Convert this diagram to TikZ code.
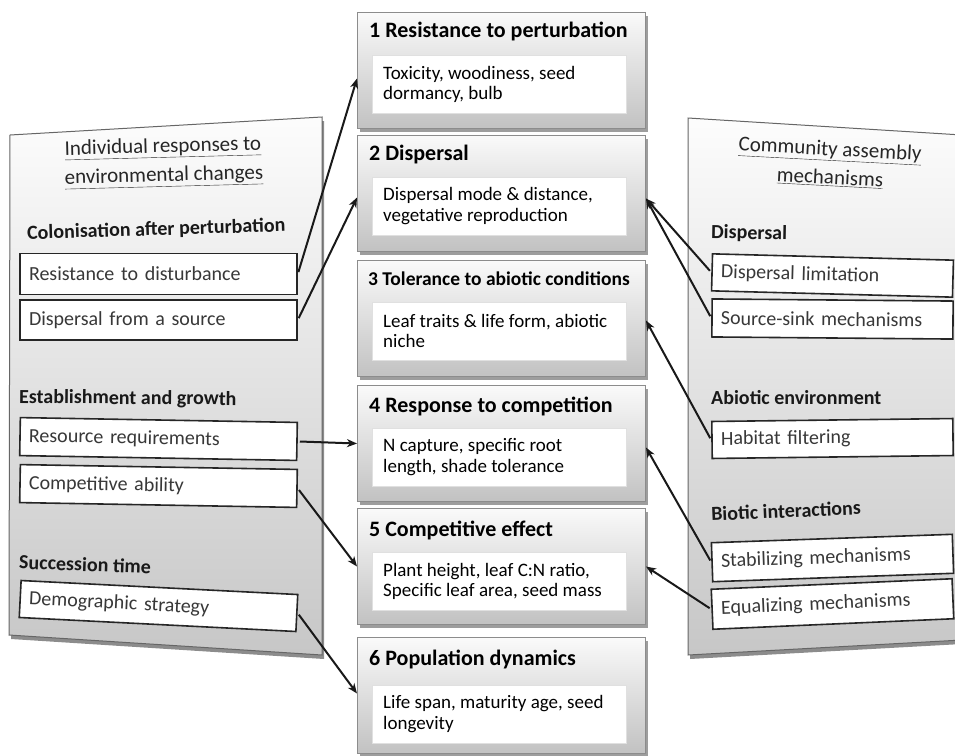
\documentclass[tikz,border=0pt]{standalone}
\usepackage{fontspec}
\setmainfont{Carlito}
\usetikzlibrary{arrows.meta,shadows,calc}
\begin{document}
\begin{tikzpicture}[x=1pt,y=-1pt,
  mainbox/.style={draw=black!45, line width=1pt, top color=black!2, bottom color=black!24,
    minimum width=288pt, minimum height=116pt, anchor=north west, inner sep=0pt,
    drop shadow={shadow xshift=2pt, shadow yshift=-3pt, fill=black!70, opacity=0.55}},
  inbox/.style={draw=black!12, fill=white, minimum width=254pt, minimum height=58pt,
    anchor=north west, inner sep=0pt},
  intext/.style={anchor=west, align=left, inner sep=0pt,
    font=\fontsize{19}{20.5}\selectfont},
  boxtitle/.style={anchor=west, inner sep=0pt, font=\bfseries\fontsize{22}{24}\selectfont},
  lbox/.style={draw=black!85, line width=1.6pt, fill=white, text width=259pt, inner xsep=9pt,
    inner ysep=0pt, align=left, text=black!78, font=\fontsize{20}{22}\selectfont},
  rbox/.style={lbox, text width=223pt},
  phead/.style={inner sep=0pt, text=black!85, font=\fontsize{21}{25}\selectfont},
  plabel/.style={anchor=west, inner sep=0pt, text=black!90, font=\bfseries\fontsize{20}{22}\selectfont},
  arr/.style={-{Stealth[length=10pt,width=8pt,inset=3pt]}, line width=2pt, black!90, shorten <=2pt},
]
\useasboundingbox (0,0) rectangle (955,755);
\clip (0,0) rectangle (955,755);

% side panels
\fill[black!45] (12,139) -- (324,121) -- (324,659) -- (11,639) -- cycle;
\shade[top color=black!1, bottom color=black!22, draw=black!60, line width=1pt]
  (10,135) -- (322,117) -- (322,655) -- (9,635) -- cycle;
\fill[black!45] (690,122) -- (962,139) -- (962,644) -- (690,659) -- cycle;
\shade[top color=black!1, bottom color=black!22, draw=black!60, line width=1pt]
  (688,118) -- (962,135) -- (962,640) -- (688,655) -- cycle;

% left panel content
\node[phead, rotate=1.5] (lh1) at (163,148) {\underline{Individual responses to}};
\node[phead, rotate=1.5] (lh2) at (164,177) {\underline{environmental changes}};
\node[plabel, rotate=1.8] (lc) at (27,234) {Colonisation after perturbation};
\node[plabel, rotate=-0.5] (le) at (19,398) {Establishment and growth};
\node[plabel, rotate=-2] (ls) at (19,562) {Succession time};
\node[lbox, minimum height=41pt] (rd) at (158.5,274) {Resistance to disturbance};
\node[lbox, minimum height=40pt] (ds) at (158.5,320) {Dispersal from a source};
\node[lbox, minimum height=38pt, rotate=-1] (rr) at (158.5,439) {Resource requirements};
\node[lbox, minimum height=38pt, rotate=-1] (ca) at (158.5,486) {Competitive ability};
\node[lbox, minimum height=37pt, rotate=-2.9] (dm) at (158.5,606) {Demographic strategy};

% right panel content
\node[phead, rotate=-3] (rh1) at (830,151) {\underline{Community assembly}};
\node[phead, rotate=-3] (rh2) at (830,178) {\underline{mechanisms}};
\node[plabel, rotate=-1] (rdp) at (711,233) {Dispersal};
\node[plabel] (rab) at (711,398) {Abiotic environment};
\node[plabel, rotate=2.5] (rbi) at (711,514) {Biotic interactions};
\node[rbox, minimum height=37pt, rotate=-1.5] (dl) at (832.5,275.5) {Dispersal limitation};
\node[rbox, minimum height=38pt, rotate=-0.5] (ss) at (832.5,319) {Source-sink mechanisms};
\node[rbox, minimum height=37pt, rotate=0.7] (hf) at (832.5,438.5) {Habitat filtering};
\node[rbox, minimum height=39pt, rotate=2] (sm) at (832.5,558) {Stabilizing mechanisms};
\node[rbox, minimum height=40pt, rotate=2.5] (em) at (832.5,604) {Equalizing mechanisms};

% central boxes
\node[mainbox] (b1) at (357,12) {};
\node[boxtitle] (t1) at (369,31) {1 Resistance to perturbation};
\node[inbox] (i1) at (372,55) {};
\node[intext] (x1) at ($(i1.west)+(11,0)$) {Toxicity, woodiness, seed\\dormancy, bulb};

\node[mainbox] (b2) at (357,135) {};
\node[boxtitle] (t2) at (369,155) {2 Dispersal};
\node[inbox] (i2) at (372,177) {};
\node[intext] (x2) at ($(i2.west)+(11,0)$) {Dispersal mode \& distance,\\vegetative reproduction};

\node[mainbox] (b3) at (357,260) {};
\node[boxtitle, font=\bfseries\fontsize{19.5}{22}\selectfont] (t3) at (368,279) {3 Tolerance to abiotic conditions};
\node[inbox] (i3) at (372,302) {};
\node[intext] (x3) at ($(i3.west)+(11,0)$) {Leaf traits \& life form, abiotic\\niche};

\node[mainbox] (b4) at (357,385) {};
\node[boxtitle] (t4) at (369,406) {4 Response to competition};
\node[inbox] (i4) at (372,428) {};
\node[intext] (x4) at ($(i4.west)+(11,0)$) {N capture, specific root\\length, shade tolerance};

\node[mainbox] (b5) at (357,508) {};
\node[boxtitle] (t5) at (369,530) {5 Competitive effect};
\node[inbox] (i5) at (372,552) {};
\node[intext] (x5) at ($(i5.west)+(11,0)$) {Plant height, leaf C:N ratio,\\Specific leaf area, seed mass};

\node[mainbox] (b6) at (357,637) {};
\node[boxtitle] (t6) at (369,659) {6 Population dynamics};
\node[inbox] (i6) at (372,685) {};
\node[intext] (x6) at ($(i6.west)+(11,0)$) {Life span, maturity age, seed\\longevity};

% connectors
\draw[arr] (rd.east) -- ($(b1.west)+(0,8)$);
\draw[arr] (ds.east) -- ($(b2.west)+(0,4)$);
\draw[arr] (rr.east) -- (b4.west);
\draw[arr] (ca.east) -- (b5.west);
\draw[arr] (dm.east) -- ($(b6.west)+(0,-2)$);
\draw[arr] (dl.west) -- ($(b2.east)+(0,5)$);
\draw[arr] (ss.west) -- ($(b2.east)+(0,5)$);
\draw[arr] (hf.west) -- ($(b3.east)+(0,2)$);
\draw[arr] (sm.west) -- ($(b4.east)+(0,4)$);
\draw[arr] (em.west) -- (b5.east);
\end{tikzpicture}
\end{document}
